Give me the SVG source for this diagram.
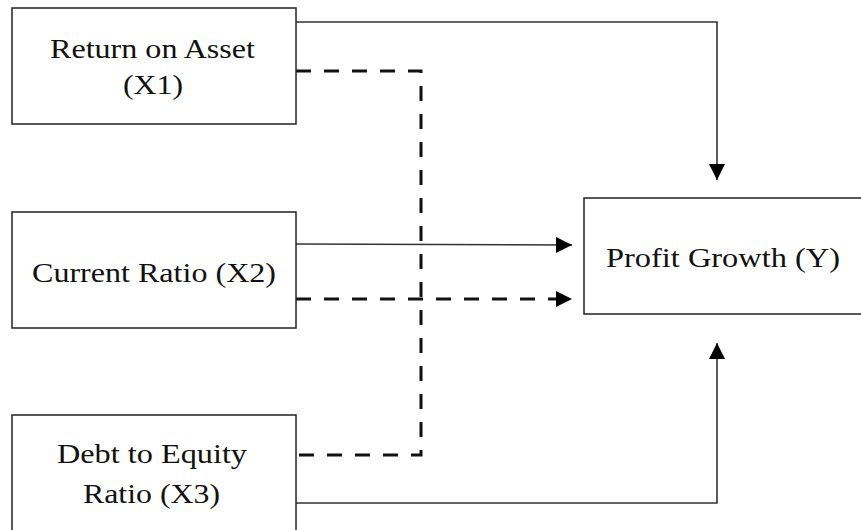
<svg xmlns="http://www.w3.org/2000/svg" width="861" height="530" viewBox="0 0 861 530">
<style>
.box{fill:#fff;stroke:#222;stroke-width:1.5}
.lbl{font-family:"Liberation Serif","Times New Roman",serif;font-size:27px;fill:#111;text-anchor:middle}
.solid{fill:none;stroke:#333;stroke-width:1.6}
.dash{fill:none;stroke:#111;stroke-width:3;stroke-dasharray:15 13}
</style>
<defs>
<marker id="ah" markerUnits="userSpaceOnUse" viewBox="0 0 16 16" refX="16" refY="8" markerWidth="16" markerHeight="16" orient="auto">
<path d="M0,0 L16,8 L0,16 Z" fill="#000"/>
</marker>
</defs>
<rect width="861" height="530" fill="#fff"/>
<g id="connectors">
<path class="solid" d="M296,22 H717 V180" marker-end="url(#ah)"/>
<path class="dash" d="M296,71 H421 V455 H296"/>
<path class="solid" d="M296,244 L572,245" marker-end="url(#ah)"/>
<path class="dash" d="M296,299 H572" stroke-dasharray="15 13" marker-end="url(#ah)"/>
<path class="solid" d="M296,503 H717 V343" marker-end="url(#ah)"/>
</g>
<g id="x1">
<rect class="box" x="12" y="8" width="284" height="116"/>
<text class="lbl" x="152.5" y="58" textLength="205" lengthAdjust="spacingAndGlyphs">Return on Asset</text>
<text class="lbl" x="153" y="94" textLength="60" lengthAdjust="spacingAndGlyphs">(X1)</text>
</g>
<g id="x2">
<rect class="box" x="12" y="212" width="284" height="116"/>
<text class="lbl" x="154" y="282" textLength="244" lengthAdjust="spacingAndGlyphs">Current Ratio (X2)</text>
</g>
<g id="x3">
<rect class="box" x="12" y="415" width="284" height="120"/>
<text class="lbl" x="152" y="463" textLength="190" lengthAdjust="spacingAndGlyphs">Debt to Equity</text>
<text class="lbl" x="151.5" y="503" textLength="137" lengthAdjust="spacingAndGlyphs">Ratio (X3)</text>
</g>
<g id="y">
<rect class="box" x="584" y="198" width="285" height="116"/>
<text class="lbl" x="723" y="267" textLength="234" lengthAdjust="spacingAndGlyphs">Profit Growth (Y)</text>
</g>
</svg>
